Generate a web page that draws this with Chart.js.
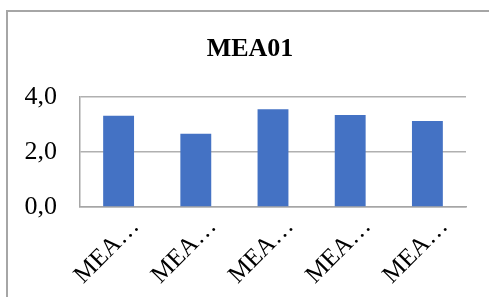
<!DOCTYPE html>
<html>
<head>
<meta charset="utf-8">
<script src="https://cdn.jsdelivr.net/npm/chart.js@4.4.0/dist/chart.umd.min.js"></script>
<style>
  html, body { margin: 0; padding: 0; background: #fff; overflow: hidden; }
  #wrap { position: relative; width: 489px; height: 297px; }
  #frame { position: absolute; left: 6px; top: 10px; width: 600px; height: 400px;
           border: 2px solid #a6a6a6; pointer-events: none; }
</style>
</head>
<body>
<div id="wrap">
  <canvas id="chart" width="489" height="297"></canvas>
  <div id="frame"></div>
</div>
<script>
// Dữ liệu biểu đồ
var categories = ['MEA…', 'MEA…', 'MEA…', 'MEA…', 'MEA…'];
var values = [3.32, 2.67, 3.56, 3.35, 3.13];
var yTicks = [0, 2, 4];

var serif = "'Liberation Serif', 'Times New Roman', serif";

// Dời tiêu đề sang phải cho giống hình gốc
var shiftTitle = {
    id: 'shiftTitle',
    afterLayout: function (chart) {
        if (chart.titleBlock) {
            chart.titleBlock.left += 17;
            chart.titleBlock.right += 17;
        }
    }
};

var ctx = document.getElementById('chart').getContext('2d');
var myChart = new Chart(ctx, {
    type: 'bar',
    data: {
        labels: categories,
        datasets: [{
            label: 'MEA01',
            data: values,
            backgroundColor: '#4472C4',
            borderWidth: 0,
            barPercentage: 0.4,
            categoryPercentage: 1
        }]
    },
    options: {
        responsive: false,
        animation: false,
        layout: { padding: { left: 0, right: 23, top: 0, bottom: 0 } },
        plugins: {
            legend: { display: false },
            tooltip: { enabled: false },
            title: {
                display: true,
                text: 'MEA01',
                color: '#000',
                font: { family: serif, size: 26, weight: 'bold' },
                padding: { top: 34, bottom: 32 }
            }
        },
        scales: {
            x: {
                grid: { display: false, drawTicks: false },
                border: { display: true, color: '#a6a6a6', width: 1.5 },
                ticks: {
                    color: '#000',
                    font: { family: serif, size: 25 },
                    minRotation: 45,
                    maxRotation: 45,
                    padding: 5,
                    labelOffset: 17
                },
                afterFit: function (scale) { scale.height = 90; }
            },
            y: {
                min: 0,
                max: 4,
                afterBuildTicks: function (scale) {
                    scale.ticks = yTicks.map(function (v) { return { value: v }; });
                },
                grid: { color: '#b0b0b0', lineWidth: 1.5, drawTicks: false },
                border: { display: true, color: '#a6a6a6', width: 1.5 },
                ticks: {
                    color: '#000',
                    font: { family: serif, size: 26 },
                    padding: 23,
                    callback: function (v) { return v.toFixed(1).replace('.', ','); }
                },
                afterFit: function (scale) { scale.width = 80; }
            }
        }
    },
    plugins: [shiftTitle]
});
</script>
</body>
</html>
